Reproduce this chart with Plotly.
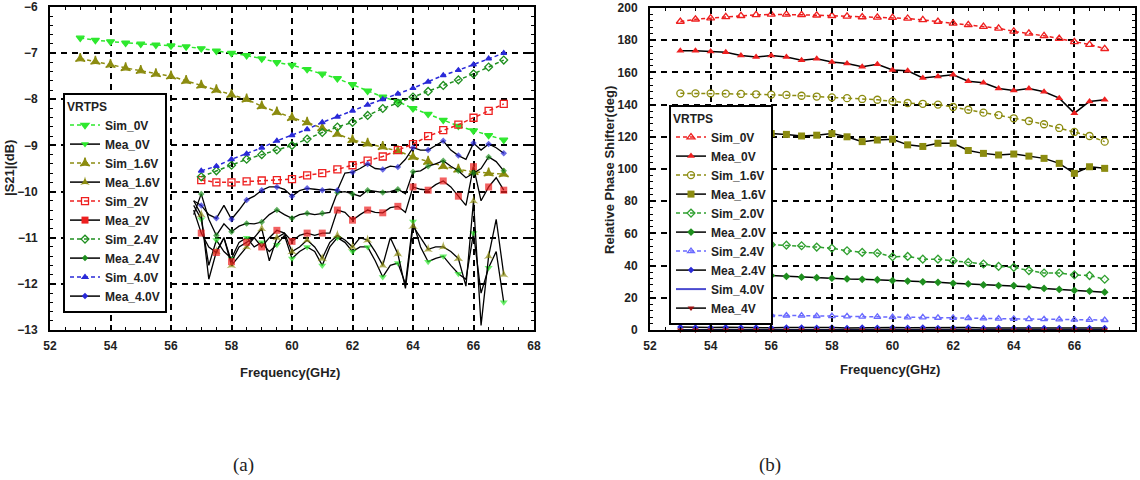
import plotly.graph_objects as go

# ---------------- data: panel (a) |S21| (dB) ----------------
f_a_full = [53.0, 53.5, 54.0, 54.5, 55.0, 55.5, 56.0, 56.5, 57.0, 57.5, 58.0, 58.5, 59.0, 59.5,
            60.0, 60.5, 61.0, 61.5, 62.0, 62.5, 63.0, 63.5, 64.0, 64.5, 65.0, 65.5, 66.0, 66.5, 67.0]
a_sim_0v = [-6.67, -6.72, -6.75, -6.78, -6.80, -6.82, -6.84, -6.86, -6.90, -6.95, -7.00, -7.05, -7.12, -7.20,
            -7.26, -7.35, -7.45, -7.55, -7.68, -7.82, -7.95, -8.05, -8.20, -8.32, -8.45, -8.58, -8.68, -8.78, -8.88]
a_sim_16v = [-7.12, -7.18, -7.25, -7.32, -7.38, -7.45, -7.50, -7.60, -7.70, -7.80, -7.90, -8.00, -8.15, -8.28,
             -8.40, -8.50, -8.62, -8.75, -8.88, -8.96, -9.03, -9.12, -9.25, -9.35, -9.45, -9.52, -9.57, -9.60, -9.62]

f_a_sim = [57.0, 57.5, 58.0, 58.5, 59.0, 59.5, 60.0, 60.5, 61.0, 61.5, 62.0,
           62.5, 63.0, 63.5, 64.0, 64.5, 65.0, 65.5, 66.0, 66.5, 67.0]
a_sim_2v = [-9.75, -9.80, -9.80, -9.78, -9.76, -9.75, -9.73, -9.65, -9.60, -9.52, -9.43,
            -9.33, -9.24, -9.10, -8.97, -8.80, -8.67, -8.55, -8.40, -8.25, -8.10]
a_sim_24v = [-9.68, -9.55, -9.43, -9.30, -9.20, -9.10, -9.00, -8.86, -8.72, -8.60, -8.50,
             -8.35, -8.20, -8.08, -7.95, -7.83, -7.70, -7.58, -7.45, -7.30, -7.15]
a_sim_40v = [-9.55, -9.45, -9.30, -9.18, -9.05, -8.90, -8.78, -8.65, -8.50, -8.38, -8.25,
             -8.12, -8.00, -7.88, -7.76, -7.62, -7.48, -7.37, -7.25, -7.12, -7.00]

f_a_mea = [56.75, 57.0, 57.25, 57.5, 57.75, 58.0, 58.25, 58.5, 58.75, 59.0, 59.25, 59.5, 59.75, 60.0,
           60.25, 60.5, 60.75, 61.0, 61.25, 61.5, 61.75, 62.0, 62.25, 62.5, 62.75, 63.0, 63.25, 63.5,
           63.75, 64.0, 64.25, 64.5, 64.75, 65.0, 65.25, 65.5, 65.75, 66.0, 66.25, 66.5, 66.75, 67.0]
a_mea_0v = [-10.3, -10.6, -11.6, -11.05, -11.3, -11.45, -11.1, -11.0, -11.2, -11.1, -11.3, -11.15, -10.95, -11.45,
            -11.3, -11.2, -11.3, -11.6, -11.2, -11.0, -11.1, -11.3, -11.2, -11.2, -11.5, -11.85, -11.6, -11.55,
            -12.0, -10.65, -11.2, -11.52, -11.45, -11.4, -11.6, -11.78, -11.9, -10.9, -12.2, -11.65, -11.3, -12.4]
a_mea_16v = [-10.2, -10.5, -11.9, -11.3, -11.0, -11.6, -11.4, -11.2, -11.0, -10.8, -11.5, -11.0, -10.9, -11.3,
             -11.2, -11.05, -11.2, -11.45, -11.1, -10.95, -11.05, -11.2, -11.0, -11.05, -11.3, -11.6, -11.0, -11.35,
             -12.1, -10.75, -11.0, -11.25, -11.2, -11.2, -11.3, -11.45, -12.05, -10.2, -12.9, -11.4, -10.6, -11.8]
a_mea_2v = [-10.4, -10.9, -11.2, -11.32, -11.0, -11.52, -11.2, -11.1, -11.0, -11.2, -11.0, -10.84, -10.9, -11.08,
            -10.95, -10.9, -10.95, -10.9, -10.9, -10.4, -10.45, -10.62, -10.5, -10.4, -10.45, -10.46, -10.35, -10.32,
            -10.45, -9.9, -9.95, -9.97, -9.85, -9.77, -9.9, -10.1, -10.3, -9.46, -10.2, -9.9, -9.7, -9.97]
a_mea_24v = [-10.5, -10.05, -10.6, -10.95, -10.7, -10.87, -10.75, -10.69, -10.7, -10.66, -10.5, -10.4, -10.5, -10.58,
             -10.5, -10.47, -10.5, -10.47, -10.45, -10.02, -10.0, -10.05, -10.1, -9.97, -10.0, -10.02, -10.0, -9.95,
             -10.05, -9.57, -9.55, -9.45, -9.4, -9.33, -9.45, -9.55, -9.7, -9.6, -9.5, -9.25, -9.35, -9.55]
a_mea_40v = [-10.2, -10.3, -10.5, -10.58, -10.3, -10.6, -10.4, -10.18, -10.1, -9.97, -9.9, -9.9, -9.95, -10.1,
             -9.98, -9.93, -9.95, -9.97, -9.95, -9.97, -9.6, -9.58, -9.5, -9.4, -9.5, -9.52, -9.45, -9.47,
             -9.3, -9.05, -9.1, -9.1, -9.0, -8.9, -9.1, -9.22, -9.3, -8.95, -9.1, -8.97, -9.05, -9.17]

# ---------------- data: panel (b) relative phase (deg) ----------------
f_b = f_a_full
b_sim_0v = [191.6, 193.0, 193.7, 194.5, 195.2, 195.7, 196.0, 196.0, 195.8, 195.5, 195.2, 194.8, 194.4, 194.2,
            194.0, 193.5, 192.6, 191.6, 190.5, 189.5, 188.4, 187.4, 185.5, 184.2, 182.7, 181.0, 179.0, 177.3, 174.7]
b_mea_0v = [173.5, 173.5, 173.0, 172.5, 170.5, 169.5, 170.5, 169.5, 167.5, 168.5, 166.5, 165.5, 163.5, 165.0,
            161.5, 161.0, 156.5, 157.5, 158.5, 154.5, 153.5, 150.0, 148.8, 150.0, 148.0, 144.0, 134.7, 142.0, 143.0]
b_sim_16v = [147.0, 147.0, 147.0, 146.8, 146.6, 146.4, 146.2, 146.0, 145.5, 145.0, 144.5, 144.0, 143.5, 143.0,
             142.0, 141.0, 140.5, 140.0, 138.5, 136.8, 135.0, 133.5, 131.5, 129.8, 127.8, 125.5, 123.0, 120.5, 117.0]
b_mea_16v = [124.0, 124.0, 123.5, 123.0, 123.0, 122.5, 122.0, 121.5, 120.5, 121.0, 122.0, 120.0, 117.0, 118.0,
             118.5, 115.0, 114.0, 116.0, 116.0, 111.5, 109.7, 108.7, 109.3, 108.0, 106.6, 103.5, 97.3, 101.4, 100.4]
b_sim_20v = [56.0, 55.5, 55.0, 54.5, 54.0, 53.5, 53.0, 52.7, 52.3, 51.5, 50.8, 49.2, 48.2, 47.8,
             45.5, 45.7, 44.0, 44.0, 43.0, 42.0, 41.0, 39.5, 38.9, 36.9, 35.4, 35.4, 34.2, 33.8, 31.5]
b_mea_20v = [35.5, 35.3, 35.0, 34.7, 34.4, 34.1, 33.8, 33.3, 32.8, 32.5, 32.2, 31.7, 31.5, 31.2,
             30.7, 30.4, 29.9, 29.6, 29.0, 28.6, 28.0, 27.6, 27.6, 26.8, 25.8, 25.2, 24.6, 24.2, 23.5]
b_sim_24v = [10.0, 9.8, 9.8, 9.6, 9.5, 9.3, 9.2, 9.0, 8.9, 8.7, 8.6, 8.5, 8.3, 8.2,
             8.0, 7.9, 7.8, 7.6, 7.5, 7.4, 7.2, 7.1, 7.0, 6.8, 6.7, 6.6, 6.4, 6.3, 6.2]
b_mea_24v = [1.8, 1.6, 1.5, 1.7, 1.5, 1.6, 1.4, 1.5, 1.6, 1.4, 1.5, 1.3, 1.5, 1.4,
             1.6, 1.4, 1.5, 1.3, 1.4, 1.5, 1.3, 1.4, 1.2, 1.4, 1.3, 1.2, 1.4, 1.2, 1.3]
b_sim_40v = [0.0] * 29
b_mea_4v = [0.0] * 29

# ---------------- styling ----------------
FONT = "Arial"
GREEN_L = "#2ee82e"
OLIVE = "#8c8c10"
RED = "#ee2020"
DGREEN = "#1f8f1f"
BLUE = "#2a2ad8"
SIMDASH = "4px,3px"

fig = go.Figure()


def sim(x, y, name, color, symbol, size, xa, ya, leg, lcolor=None):
    fig.add_trace(go.Scatter(
        x=x, y=y, name=name, mode="lines+markers", xaxis=xa, yaxis=ya, legend=leg,
        line=dict(color=lcolor or color, width=1.5, dash=SIMDASH),
        marker=dict(symbol=symbol, size=size, color=color, line=dict(color=color, width=1.3)),
        cliponaxis=False))


def mea_fine(x, y, name, color, symbol, size, xa, ya, leg):
    # legend sample
    fig.add_trace(go.Scatter(
        x=[None], y=[None], name=name, mode="lines+markers", xaxis=xa, yaxis=ya, legend=leg,
        line=dict(color="black", width=1.5),
        marker=dict(symbol=symbol, size=size, color=color, line=dict(width=0))))
    sizes = [size if abs(v * 2 - round(v * 2)) < 1e-6 else 0 for v in x]
    fig.add_trace(go.Scatter(
        x=x, y=y, name=name, mode="lines+markers", xaxis=xa, yaxis=ya, showlegend=False,
        line=dict(color="black", width=1.3),
        marker=dict(symbol=symbol, size=sizes, color=color, line=dict(width=0))))


def mea(x, y, name, color, symbol, size, xa, ya, leg, lcolor="black", mode="lines+markers"):
    fig.add_trace(go.Scatter(
        x=x, y=y, name=name, mode=mode, xaxis=xa, yaxis=ya, legend=leg,
        line=dict(color=lcolor, width=1.5),
        marker=dict(symbol=symbol, size=size, color=color, line=dict(width=0)),
        cliponaxis=False))


# panel (a)
sim(f_a_full, a_sim_0v, "Sim_0V", GREEN_L, "triangle-down", 7, "x", "y", "legend")
mea_fine(f_a_mea, a_mea_0v, "Mea_0V", GREEN_L, "triangle-down", 7, "x", "y", "legend")
sim(f_a_full, a_sim_16v, "Sim_1.6V", OLIVE, "star-triangle-up", 7, "x", "y", "legend")
mea_fine(f_a_mea, a_mea_16v, "Mea_1.6V", OLIVE, "star-triangle-up", 7, "x", "y", "legend")
sim(f_a_sim, a_sim_2v, "Sim_2V", RED, "square-open", 7, "x", "y", "legend")
mea_fine(f_a_mea, a_mea_2v, "Mea_2V", RED, "square", 7, "x", "y", "legend")
sim(f_a_sim, a_sim_24v, "Sim_2.4V", DGREEN, "diamond-open", 6, "x", "y", "legend")
mea_fine(f_a_mea, a_mea_24v, "Mea_2.4V", DGREEN, "diamond", 5, "x", "y", "legend")
sim(f_a_sim, a_sim_40v, "Sim_4.0V", BLUE, "triangle-up", 5, "x", "y", "legend")
mea_fine(f_a_mea, a_mea_40v, "Mea_4.0V", BLUE, "diamond", 5, "x", "y", "legend")

# panel (b)
sim(f_b, b_sim_0v, "Sim_0V", RED, "triangle-up-open", 7, "x2", "y2", "legend2")
mea(f_b, b_mea_0v, "Mea_0V", RED, "triangle-up", 7, "x2", "y2", "legend2")
sim(f_b, b_sim_16v, "Sim_1.6V", OLIVE, "circle-open", 7, "x2", "y2", "legend2")
mea(f_b, b_mea_16v, "Mea_1.6V", OLIVE, "square", 7, "x2", "y2", "legend2")
sim(f_b, b_sim_20v, "Sim_2.0V", "#30a030", "diamond-open", 6, "x2", "y2", "legend2")
mea(f_b, b_mea_20v, "Mea_2.0V", DGREEN, "diamond", 6, "x2", "y2", "legend2")
sim(f_b, b_sim_24v, "Sim_2.4V", "#6a6aff", "triangle-up-open", 6, "x2", "y2", "legend2")
mea(f_b, b_mea_24v, "Mea_2.4V", BLUE, "diamond", 5, "x2", "y2", "legend2")
fig.add_trace(go.Scatter(x=f_b, y=b_sim_40v, name="Sim_4.0V", mode="lines", xaxis="x2", yaxis="y2",
                         legend="legend2", line=dict(color="#4a4ad0", width=2), cliponaxis=False))
mea(f_b, b_mea_4v, "Mea_4V", "#9a1010", "triangle-down", 6, "x2", "y2", "legend2")

tickfont = dict(family=FONT, size=12, color="#222", weight="bold")


def axis(domain, rng, dtick, minor_dtick, standoff, anchor):
    return dict(domain=domain, range=rng, dtick=dtick, tick0=rng[0], anchor=anchor,
                showline=True, linecolor="black", linewidth=2, mirror="allticks",
                ticks="inside", ticklen=5, tickwidth=1.5, tickcolor="black",
                showgrid=True, gridcolor="black", gridwidth=2, griddash="6px,5px",
                zeroline=False, tickfont=tickfont, ticklabelstandoff=standoff,
                minor=dict(ticks="inside", ticklen=3, tickwidth=1, tickcolor="black",
                           dtick=minor_dtick, showgrid=False))


yb0, yt_a, yt_b = 1 - 330 / 480, 1 - 7 / 480, 1 - 8 / 480
legfont = dict(family=FONT, size=12, color="#222", weight="bold")
legcommon = dict(xanchor="left", yanchor="top", bgcolor="white", bordercolor="black",
                 borderwidth=2, font=legfont, tracegroupgap=0,
                 title=dict(text="VRTPS", font=dict(family=FONT, size=12, color="#222", weight="bold")))


def note(text, px, py, size=13, family=FONT, weight="bold", angle=0):
    return dict(text=text, x=px / 1140, y=1 - py / 480, xref="paper", yref="paper",
                xanchor="center", yanchor="middle", textangle=angle, showarrow=False,
                font=dict(family=family, size=size, color="#222", weight=weight))


fig.update_layout(
    width=1140, height=480, margin=dict(l=0, r=0, t=0, b=0, autoexpand=False),
    paper_bgcolor="white", plot_bgcolor="white",
    xaxis=axis([50 / 1140, 534 / 1140], [52, 68], 2, 0.5, 4, "y"),
    yaxis=axis([yb0, yt_a], [-13, -6], 1, 0.2, 8, "x"),
    xaxis2=axis([650 / 1140, 1135 / 1140], [52, 68], 2, 0.5, 4, "y2"),
    yaxis2=axis([yb0, yt_b], [0, 200], 20, 4, 8, "x2"),
    legend=dict(x=63 / 1140, y=1 - 93 / 480, **legcommon),
    legend2=dict(x=669 / 1140, y=1 - 105 / 480, **legcommon),
    annotations=[
        note("Frequency(GHz)", 290, 372),
        note("Frequency(GHz)", 890, 369),
        note("|S21|(dB)", 9, 168, angle=-90),
        note("Relative Phase Shifter(deg)", 609, 170, angle=-90),
        note("(a)", 243, 465, size=19, family="Liberation Serif", weight="normal"),
        note("(b)", 770, 465, size=19, family="Liberation Serif", weight="normal"),
    ],
)

fig.write_html("out.html")
